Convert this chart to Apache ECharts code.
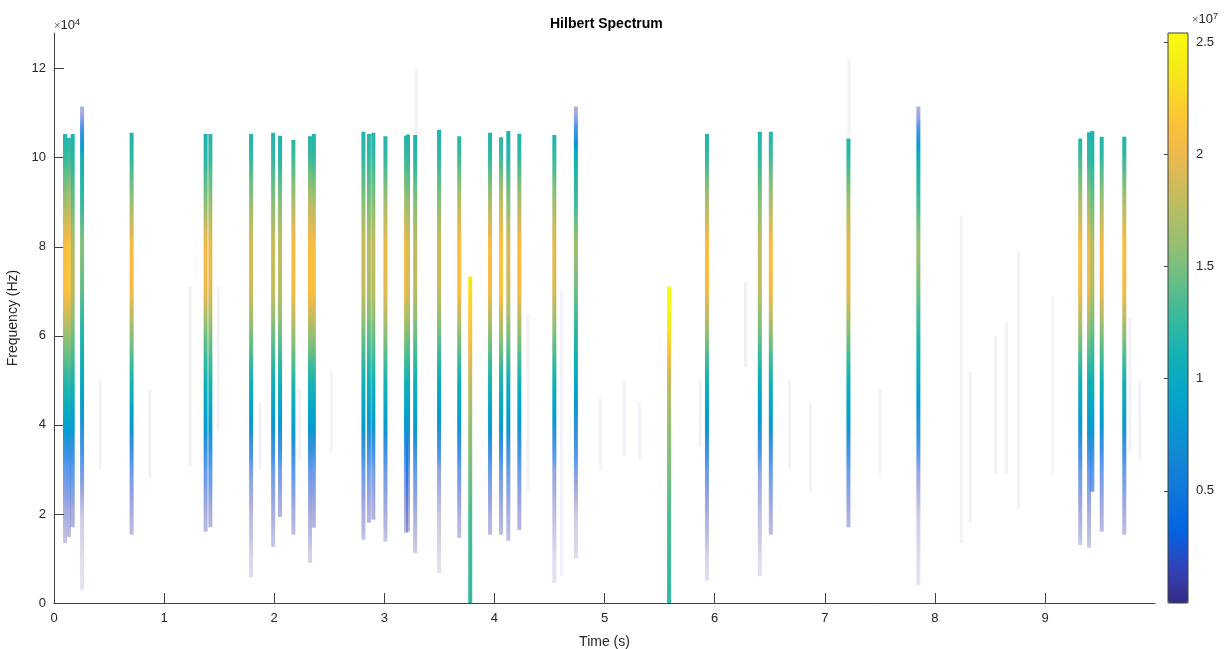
<!doctype html>
<html>
<head>
<meta charset="utf-8">
<script src="https://cdn.jsdelivr.net/npm/echarts@6/dist/echarts.min.js"></script>
<style>
	html, body { margin: 0; padding: 0; background: #fff; }
	#chart { width: 1231px; height: 649px; }
</style>
</head>
<body>
<div id="chart"></div>
<script>
	// frequency nodes (x1e4 Hz), energies below are read at these nodes (x1e7)
	var freqNodes = [11, 10, 9, 8, 7, 6, 5, 4, 3, 2, 1, 0];
	var freqTicks = [0, 20000, 40000, 60000, 80000, 100000, 120000];
	var timeTicks = [0, 1, 2, 3, 4, 5, 6, 7, 8, 9];
	var energyTicks = [0.5, 1, 1.5, 2, 2.5];

	// strong ridges: time (s), top and bottom frequency (x1e4 Hz)
	var lineTime = [0.10, 0.136, 0.17, 0.255, 0.705, 1.377, 1.42, 1.79, 1.99, 2.053,
		2.174, 2.325, 2.36, 2.81, 2.86, 2.90, 3.01, 3.197, 3.215, 3.28,
		3.497, 3.68, 3.96, 4.06, 4.126, 4.226, 4.544, 4.74, 5.93, 6.41,
		6.51, 7.215, 7.85, 9.32, 9.40, 9.43, 9.515, 9.72, 3.78, 5.586];
	var lineTop = [10.53, 10.45, 10.53, 11.15, 10.56, 10.53, 10.53, 10.53, 10.56, 10.49,
		10.40, 10.48, 10.53, 10.58, 10.53, 10.56, 10.48, 10.49, 10.52, 10.51,
		10.63, 10.48, 10.56, 10.46, 10.60, 10.54, 10.51, 11.15, 10.53, 10.58,
		10.58, 10.43, 11.15, 10.43, 10.57, 10.60, 10.47, 10.47, 7.33, 7.11];
	var lineBottom = [1.35, 1.48, 1.70, 0.30, 1.53, 1.60, 1.70, 0.58, 1.26, 1.93,
		1.53, 0.90, 1.69, 1.42, 1.80, 1.87, 1.38, 1.57, 1.60, 1.12,
		0.67, 1.46, 1.53, 1.53, 1.40, 1.64, 0.45, 1.00, 0.50, 0.60,
		1.53, 1.70, 0.40, 1.30, 1.24, 2.50, 1.60, 1.53, 0, 0];
	var lineEnergy = [
		[1.10, 1.25, 1.65, 2.10, 2.10, 1.60, 1.20, 0.90, 0.32, 0.14, 0.02, 0.01],
		[1.10, 1.30, 1.75, 2.15, 2.15, 1.65, 1.25, 0.90, 0.35, 0.15, 0.02, 0.01],
		[1.10, 1.20, 1.45, 1.70, 1.75, 1.45, 1.15, 0.85, 0.35, 0.15, 0.02, 0.01],
		[0.12, 1.10, 1.25, 1.55, 1.40, 1.15, 1.00, 0.70, 0.30, 0.05, 0.02, 0.01],
		[1.10, 1.25, 1.60, 2.05, 2.05, 1.55, 1.15, 0.85, 0.30, 0.14, 0.02, 0.01],
		[1.10, 1.20, 1.55, 2.05, 2.00, 1.45, 1.10, 0.85, 0.32, 0.14, 0.02, 0.01],
		[1.15, 1.25, 1.60, 2.00, 1.95, 1.50, 1.15, 0.85, 0.35, 0.14, 0.02, 0.01],
		[1.10, 1.25, 1.60, 1.90, 1.85, 1.50, 1.10, 0.80, 0.25, 0.10, 0.03, 0.01],
		[1.10, 1.25, 1.55, 1.85, 1.80, 1.45, 1.10, 0.80, 0.30, 0.14, 0.02, 0.01],
		[1.10, 1.20, 1.55, 1.80, 1.75, 1.45, 1.10, 0.80, 0.28, 0.12, 0.02, 0.01],
		[1.10, 1.30, 1.70, 2.10, 2.05, 1.60, 1.20, 0.90, 0.35, 0.14, 0.02, 0.01],
		[1.10, 1.30, 1.75, 2.10, 2.10, 1.60, 1.15, 0.85, 0.30, 0.14, 0.03, 0.01],
		[1.10, 1.25, 1.70, 2.10, 2.10, 1.60, 1.15, 0.85, 0.30, 0.14, 0.02, 0.01],
		[1.10, 1.25, 1.55, 1.85, 1.80, 1.45, 1.10, 0.85, 0.30, 0.14, 0.02, 0.01],
		[1.15, 1.25, 1.50, 1.75, 1.70, 1.40, 1.10, 0.80, 0.28, 0.12, 0.02, 0.01],
		[1.10, 1.25, 1.55, 1.80, 1.75, 1.45, 1.10, 0.80, 0.28, 0.12, 0.02, 0.01],
		[1.10, 1.25, 1.65, 2.00, 1.95, 1.55, 1.15, 0.85, 0.30, 0.14, 0.02, 0.01],
		[1.10, 1.30, 1.70, 2.10, 2.05, 1.60, 1.15, 0.85, 0.30, 0.14, 0.02, 0.01],
		[1.10, 1.25, 1.60, 1.95, 1.90, 1.50, 1.10, 0.80, 0.30, 0.14, 0.02, 0.01],
		[1.10, 1.20, 1.55, 1.80, 1.75, 1.45, 1.10, 0.85, 0.32, 0.14, 0.03, 0.01],
		[1.10, 1.25, 1.55, 1.85, 1.80, 1.45, 1.05, 0.75, 0.20, 0.06, 0.02, 0.01],
		[1.10, 1.30, 1.75, 2.10, 2.10, 1.55, 1.10, 0.80, 0.30, 0.14, 0.02, 0.01],
		[1.10, 1.25, 1.70, 2.10, 2.05, 1.55, 1.15, 0.85, 0.30, 0.14, 0.02, 0.01],
		[1.10, 1.30, 1.80, 2.15, 2.15, 1.60, 1.15, 0.85, 0.30, 0.14, 0.02, 0.01],
		[1.10, 1.20, 1.55, 1.90, 1.85, 1.50, 1.10, 0.80, 0.30, 0.14, 0.03, 0.01],
		[1.10, 1.25, 1.70, 2.10, 2.05, 1.55, 1.10, 0.80, 0.30, 0.14, 0.02, 0.01],
		[1.10, 1.25, 1.65, 1.95, 1.90, 1.50, 1.10, 0.75, 0.20, 0.08, 0.02, 0.01],
		[0.12, 1.10, 1.30, 1.65, 1.45, 1.20, 1.00, 0.65, 0.25, 0.05, 0.02, 0.01],
		[1.10, 1.25, 1.70, 2.10, 2.05, 1.55, 1.10, 0.80, 0.30, 0.14, 0.03, 0.01],
		[1.10, 1.25, 1.55, 1.80, 1.75, 1.45, 1.05, 0.75, 0.20, 0.08, 0.02, 0.01],
		[1.10, 1.30, 1.70, 2.10, 2.05, 1.55, 1.10, 0.80, 0.30, 0.14, 0.02, 0.01],
		[1.10, 1.25, 1.65, 2.00, 1.95, 1.50, 1.10, 0.80, 0.30, 0.14, 0.02, 0.01],
		[0.12, 1.10, 1.30, 1.65, 1.45, 1.20, 1.00, 0.65, 0.20, 0.05, 0.02, 0.01],
		[1.10, 1.30, 1.70, 2.10, 2.05, 1.55, 1.10, 0.80, 0.30, 0.14, 0.02, 0.01],
		[1.10, 1.25, 1.65, 2.05, 2.00, 1.55, 1.10, 0.85, 0.30, 0.14, 0.02, 0.01],
		[1.10, 1.20, 1.45, 1.75, 1.70, 1.40, 1.10, 0.85, 0.35, 0.14, 0.02, 0.01],
		[1.10, 1.25, 1.65, 2.05, 2.00, 1.50, 1.10, 0.80, 0.30, 0.14, 0.02, 0.01],
		[1.10, 1.25, 1.70, 2.10, 2.05, 1.55, 1.10, 0.80, 0.30, 0.14, 0.02, 0.01],
		[2.60, 2.60, 2.60, 2.60, 2.30, 2.10, 1.80, 1.60, 1.50, 1.35, 1.30, 1.25],
		[2.70, 2.70, 2.70, 2.70, 2.60, 2.30, 1.80, 1.60, 1.50, 1.35, 1.30, 1.25]
	];

	// faint background traces
	var faintTime = [0.42, 0.87, 1.235, 1.49, 1.87, 2.23, 2.52, 3.29, 4.305, 4.61,
		4.96, 5.18, 5.32, 5.87, 6.28, 6.68, 6.87, 7.22, 7.50, 8.24,
		8.32, 8.55, 8.65, 8.76, 9.07, 9.77, 9.86];
	var faintTop = [5.0, 4.8, 7.1, 7.1, 4.5, 4.8, 5.2, 12.0, 6.5, 7.0,
		4.6, 5.0, 4.5, 5.0, 7.2, 5.0, 4.5, 12.2, 4.8, 8.7,
		5.2, 6.0, 6.3, 7.9, 6.9, 6.4, 5.0];
	var faintBottom = [3.0, 2.8, 3.06, 3.9, 3.0, 3.2, 3.4, 4.5, 2.5, 0.6,
		3.0, 3.3, 3.2, 3.5, 5.3, 3.0, 2.5, 10.5, 2.9, 1.35,
		1.8, 2.9, 2.9, 2.1, 2.9, 3.4, 3.2];
	var faintEnergy = [0.02, 0.02, 0.03, 0.02, 0.02, 0.02, 0.02, 0.02, 0.02, 0.02,
		0.02, 0.02, 0.02, 0.02, 0.03, 0.02, 0.02, 0.02, 0.02, 0.02,
		0.02, 0.02, 0.02, 0.02, 0.02, 0.02, 0.02];

	var energyMax = 2.54;
	var parula = ['#352a87', '#3243ba', '#0363e1', '#0d75dc', '#1485d4', '#0998d1', '#06a7c6', '#15b1b4', '#38b99e',
		'#65be86', '#92bf73', '#b7bd64', '#d9ba56', '#f8bb44', '#fcce2e', '#f5eb18', '#f9fb0e'];

	function hexRgb(h) {
		return [parseInt(h.substr(1, 2), 16), parseInt(h.substr(3, 2), 16), parseInt(h.substr(5, 2), 16)];
	}
	function energyColor(v) {
		var x = Math.max(0, Math.min(1, v / energyMax)) * (parula.length - 1);
		var i = Math.min(Math.floor(x), parula.length - 2), fr = x - i;
		var a = hexRgb(parula[i]), b = hexRgb(parula[i + 1]);
		var rgb = [0, 1, 2].map(function(k) { return Math.round(a[k] + (b[k] - a[k]) * fr); });
		var alpha = Math.min(1, Math.sqrt(Math.max(v, 0) / 0.8));
		return 'rgba(' + rgb.join(',') + ',' + alpha.toFixed(3) + ')';
	}
	function energyAt(e, f) {
		if (f >= freqNodes[0]) return e[0];
		for (var k = 0; k < freqNodes.length - 1; k++) {
			var a = freqNodes[k], b = freqNodes[k + 1];
			if (f <= a && f >= b) return e[k] + (e[k + 1] - e[k]) * (a - f) / (a - b);
		}
		return e[e.length - 1];
	}

	var lineData = lineTime.map(function(t, i) {
		return [t, lineTop[i] * 1e4, lineBottom[i] * 1e4, i, 1];
	});
	var faintData = faintTime.map(function(t, i) {
		return [t, faintTop[i] * 1e4, faintBottom[i] * 1e4, faintEnergy[i]];
	});

	function renderLine(params, api) {
		var idx = api.value(3);
		var top = api.value(1), bot = api.value(2);
		var p1 = api.coord([api.value(0), top]);
		var p2 = api.coord([api.value(0), bot]);
		var stops = [];
		var n = 48;
		for (var s = 0; s <= n; s++) {
			var f = (top - (top - bot) * s / n) / 1e4;
			stops.push({ offset: s / n, color: energyColor(energyAt(lineEnergy[idx], f)) });
		}
		return {
			type: 'rect',
			shape: { x: p1[0] - 2, y: p1[1], width: 4, height: p2[1] - p1[1] },
			style: { fill: new echarts.graphic.LinearGradient(0, 0, 0, 1, stops) }
		};
	}
	function renderFaint(params, api) {
		var p1 = api.coord([api.value(0), api.value(1)]);
		var p2 = api.coord([api.value(0), api.value(2)]);
		return {
			type: 'rect',
			shape: { x: p1[0] - 1.5, y: p1[1], width: 3, height: p2[1] - p1[1] },
			style: { fill: energyColor(api.value(3)), opacity: 0.4 }
		};
	}

	var axisColor = '#404040';
	var labelColor = '#262626';
	var font = 'Liberation Sans, Arial, Helvetica, sans-serif';
	var expRich = {
		a: { fontSize: 11, fill: '#666', fontFamily: font },
		b: { fontSize: 13, fill: labelColor, fontFamily: font },
		c: { fontSize: 9, fill: labelColor, fontFamily: font, verticalAlign: 'top', padding: [0, 0, 6, 0] }
	};

	var myChart = echarts.init(document.getElementById('chart'));
	var option = {
		backgroundColor: '#fff',
		animation: false,
		textStyle: { fontFamily: font },
		title: {
			text: 'Hilbert Spectrum',
			left: 545,
			top: 12,
			textStyle: { fontSize: 14, fontWeight: 'bold', color: '#000', fontFamily: font }
		},
		grid: [
			{ left: 54, top: 33, width: 1101, height: 570, outerBoundsMode: 'none' },
			{ left: 1168, top: 33, width: 20, height: 570, outerBoundsMode: 'none', show: true, borderColor: axisColor, borderWidth: 1, backgroundColor: 'transparent', z: 6 }
		],
		xAxis: [{
			type: 'value',
			min: 0,
			max: 9.999,
			name: 'Time (s)',
			nameLocation: 'middle',
			nameGap: 32,
			nameTextStyle: { fontSize: 14, color: labelColor },
			axisLine: { lineStyle: { color: axisColor } },
			axisTick: { inside: true, length: 10, customValues: timeTicks, lineStyle: { color: axisColor } },
			axisLabel: { fontSize: 13, color: labelColor, margin: 9, customValues: timeTicks },
			splitLine: { show: false }
		}, {
			type: 'value', gridIndex: 1, min: 0, max: 1, show: false
		}],
		yAxis: [{
			type: 'value',
			min: 0,
			max: 128000,
			name: 'Frequency (Hz)',
			nameLocation: 'middle',
			nameGap: 30,
			nameTextStyle: { fontSize: 14, color: labelColor },
			axisLine: { show: true, lineStyle: { color: axisColor } },
			axisTick: { show: true, inside: true, length: 10, customValues: freqTicks, lineStyle: { color: axisColor } },
			axisLabel: { fontSize: 13, color: labelColor, margin: 8, customValues: freqTicks, formatter: function(v) { return v / 1e4; } },
			splitLine: { show: false }
		}, {
			type: 'value',
			gridIndex: 1,
			position: 'right',
			min: 0,
			max: energyMax,
			axisLine: { show: false },
			axisTick: { show: true, inside: true, length: 4, customValues: energyTicks, lineStyle: { color: axisColor } },
			axisLabel: { fontSize: 13, color: labelColor, margin: 8, customValues: energyTicks },
			splitLine: { show: false }
		}],
		visualMap: {
			type: 'continuous',
			min: 0,
			max: energyMax,
			seriesIndex: 1,
			dimension: 4,
			calculable: false,
			left: 1168,
			top: 33,
			padding: 0,
			itemWidth: 20,
			itemHeight: 570,
			inRange: { color: parula }
		},
		graphic: [{
			type: 'text',
			left: 54,
			top: 18,
			style: { text: '{a|×}{b|10}{c|4}', rich: expRich }
		}, {
			type: 'text',
			left: 1192,
			top: 12,
			style: { text: '{a|×}{b|10}{c|7}', rich: expRich }
		}],
		series: [{
			type: 'custom',
			name: 'faint',
			renderItem: renderFaint,
			encode: { x: 0, y: [1, 2] },
			data: faintData,
			silent: true
		}, {
			type: 'custom',
			name: 'ridges',
			renderItem: renderLine,
			encode: { x: 0, y: [1, 2] },
			data: lineData,
			silent: true
		}]
	};
	myChart.setOption(option);
</script>
</body>
</html>
